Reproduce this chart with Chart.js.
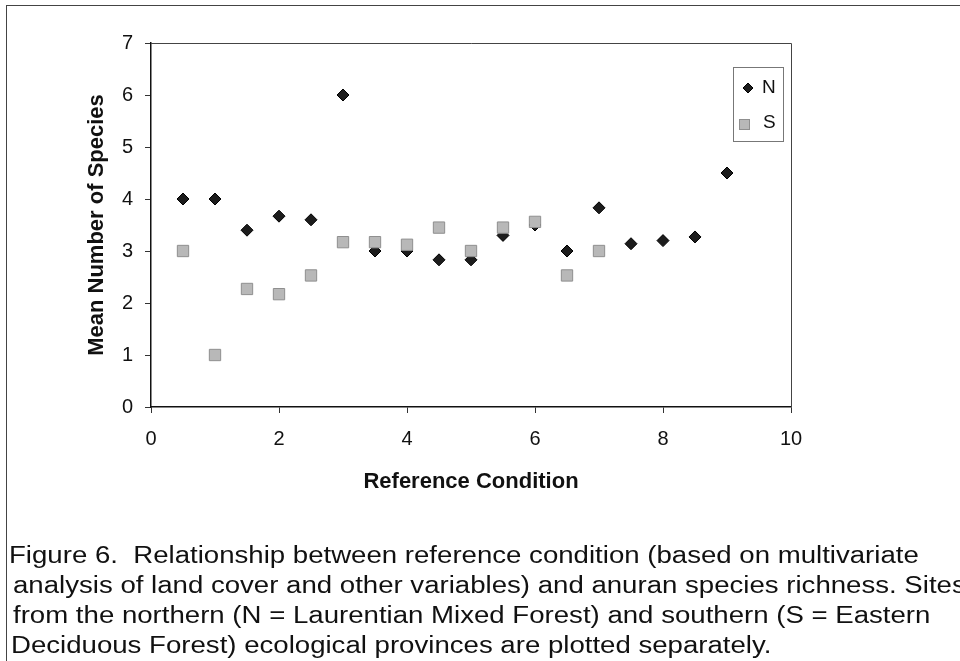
<!DOCTYPE html>
<html>
<head>
<meta charset="utf-8">
<script src="https://cdn.jsdelivr.net/npm/chart.js@4.4.1/dist/chart.umd.min.js"></script>
<style>
  html, body { margin: 0; padding: 0; background: #fff; overflow: hidden; }
  #wrap { position: relative; width: 960px; height: 661px; overflow: hidden; }
  #frame { position: absolute; left: 6px; top: 5px; width: 2000px; height: 2000px;
           border-left: 1px solid #444; border-top: 1px solid #444; }
  canvas { position: absolute; left: 0; top: 0; }
  .cap { position: absolute; white-space: nowrap; font-family: "Liberation Sans", Arial, sans-serif;
         font-size: 23px; line-height: 30px; color: #111;
         transform: scaleX(1.2); transform-origin: 0 0; }
</style>
</head>
<body>
<div id="wrap">
  <div id="frame"></div>
  <canvas id="chart" width="960" height="661"></canvas>
  <div class="cap" style="left:9px;top:540px">Figure 6.&nbsp; Relationship between reference condition (based on multivariate</div>
  <div class="cap" style="left:13px;top:570px">analysis of land cover and other variables) and anuran species richness. Sites</div>
  <div class="cap" style="left:13px;top:600px">from the northern (N = Laurentian Mixed Forest) and southern (S = Eastern</div>
  <div class="cap" style="left:11px;top:630px">Deciduous Forest) ecological provinces are plotted separately.</div>
</div>
<script>
// reference condition (x) and mean species count (y)
const condN = [0.5, 1, 1.5, 2, 2.5, 3, 3.5, 4, 4.5, 5, 5.5, 6, 6.5, 7, 7.5, 8, 8.5, 9];
const meanN = [4.0, 4.0, 3.4, 3.67, 3.6, 6.0, 3.0, 3.0, 2.83, 2.83, 3.3, 3.5, 3.0, 3.83, 3.14, 3.2, 3.27, 4.5];
const condS = [0.5, 1, 1.5, 2, 2.5, 3, 3.5, 4, 4.5, 5, 5.5, 6, 6.5, 7];
const meanS = [3.0, 1.0, 2.27, 2.17, 2.53, 3.17, 3.17, 3.12, 3.45, 3.0, 3.45, 3.56, 2.53, 3.0];
const seriesNames = ['N', 'S'];
const xTicks = [0, 2, 4, 6, 8, 10];
const yTicks = [0, 1, 2, 3, 4, 5, 6, 7];

const toPoints = (xs, ys) => xs.map((x, i) => ({ x: x, y: ys[i] }));

const FONT = '"Liberation Sans", Arial, sans-serif';

// box round the plot area (top + right edges) and the little legend box
const framePlugin = {
  id: 'frameAndLegend',
  afterDatasetsDraw(chart) {
    const { ctx, chartArea: a } = chart;
    ctx.save();
    ctx.strokeStyle = '#444';
    ctx.lineWidth = 1;
    ctx.beginPath();
    ctx.moveTo(a.left, a.top + 0.5);
    ctx.lineTo(a.right + 0.5, a.top + 0.5);
    ctx.lineTo(a.right + 0.5, a.bottom);
    ctx.stroke();

    // legend
    const lx = a.right - 58, ly = a.top + 24;
    ctx.strokeStyle = '#777';
    ctx.strokeRect(lx + 0.5, ly + 0.5, 50, 74);
    ctx.font = '19px ' + FONT;
    ctx.textBaseline = 'middle';

    const dsN = chart.data.datasets[0];
    const dsS = chart.data.datasets[1];
    // diamond
    const dx = lx + 15, dy = ly + 21;
    ctx.fillStyle = dsN.backgroundColor;
    ctx.strokeStyle = dsN.borderColor;
    ctx.beginPath();
    ctx.moveTo(dx, dy - 5);
    ctx.lineTo(dx + 5, dy);
    ctx.lineTo(dx, dy + 5);
    ctx.lineTo(dx - 5, dy);
    ctx.closePath();
    ctx.fill();
    ctx.stroke();
    // square
    ctx.fillStyle = dsS.backgroundColor;
    ctx.strokeStyle = dsS.borderColor;
    ctx.fillRect(lx + 6, ly + 52, 11, 11);
    ctx.strokeRect(lx + 6.5, ly + 52.5, 10, 10);

    ctx.fillStyle = '#111';
    ctx.fillText(seriesNames[0], lx + 29, ly + 21);
    ctx.fillText(seriesNames[1], lx + 30, ly + 56);
    ctx.restore();
  }
};

new Chart(document.getElementById('chart').getContext('2d'), {
  type: 'scatter',
  data: {
    datasets: [
      {
        label: seriesNames[0],
        data: toPoints(condN, meanN),
        pointStyle: 'rectRot',
        pointRadius: 6,
        backgroundColor: '#1c1c1c',
        borderColor: '#000',
        borderWidth: 1,
        order: 2,
      },
      {
        label: seriesNames[1],
        data: toPoints(condS, meanS),
        pointStyle: 'rect',
        pointRadius: 8,
        backgroundColor: '#b8b8b8',
        borderColor: '#8f8f8f',
        borderWidth: 1,
        order: 1,
      },
    ],
  },
  options: {
    responsive: false,
    animation: false,
    layout: { padding: { left: 84, top: 43, right: 169, bottom: 166 } },
    plugins: {
      legend: { display: false },
      tooltip: { enabled: false },
    },
    scales: {
      x: {
        type: 'linear',
        min: xTicks[0],
        max: xTicks[xTicks.length - 1],
        afterBuildTicks: (s) => { s.ticks = xTicks.map(v => ({ value: v })); },
        afterFit: (s) => { s.height = 88; },
        ticks: { color: '#111', font: { family: FONT, size: 20 }, padding: 14 },
        grid: { drawOnChartArea: false, drawTicks: true, tickLength: 6, color: '#333' },
        border: { color: '#111', width: 1.5 },
        title: {
          display: true,
          text: 'Reference Condition',
          color: '#111',
          font: { family: FONT, size: 22, weight: 'bold' },
          padding: 0,
        },
      },
      y: {
        type: 'linear',
        min: yTicks[0],
        max: yTicks[yTicks.length - 1],
        afterBuildTicks: (s) => { s.ticks = yTicks.map(v => ({ value: v })); },
        afterFit: (s) => { s.width = 67; },
        ticks: { color: '#111', font: { family: FONT, size: 20 }, padding: 12 },
        grid: { drawOnChartArea: false, drawTicks: true, tickLength: 6, color: '#333' },
        border: { color: '#111', width: 1.5 },
        title: {
          display: true,
          text: 'Mean Number of Species',
          color: '#111',
          font: { family: FONT, size: 22, weight: 'bold' },
          padding: 0,
        },
      },
    },
  },
  plugins: [framePlugin],
});
</script>
</body>
</html>
